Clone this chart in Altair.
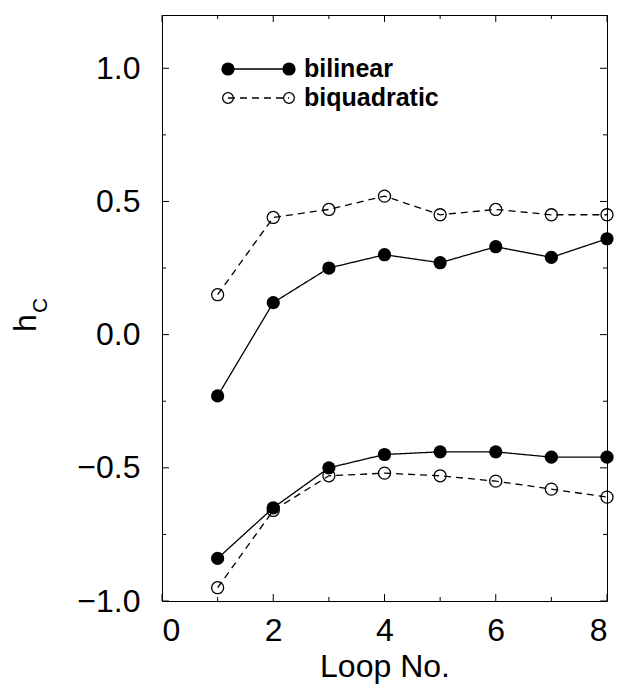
import altair as alt
import pandas as pd

# ---- data ----
loops = [1, 2, 3, 4, 5, 6, 7, 8]
bilinear_upper = [-0.23, 0.12, 0.25, 0.30, 0.27, 0.33, 0.29, 0.36]
biquadratic_upper = [0.15, 0.44, 0.47, 0.52, 0.45, 0.47, 0.45, 0.45]
bilinear_lower = [-0.84, -0.65, -0.50, -0.45, -0.44, -0.44, -0.46, -0.46]
biquadratic_lower = [-0.95, -0.66, -0.53, -0.52, -0.53, -0.55, -0.58, -0.61]
series_names = ["bilinear", "biquadratic"]

x_ticks_major = [0, 2, 4, 6, 8]
x_ticks_minor = [1, 3, 5, 7]
y_ticks_major = [-1.0, -0.5, 0.0, 0.5, 1.0]
y_ticks_minor = [-0.75, -0.25, 0.25, 0.75]

x_title = "Loop No."
y_title_main = "h"
y_title_sub = "C"

# ---- table ----
rows = []
for name, branch, vals in [
    ("bilinear", "upper", bilinear_upper),
    ("biquadratic", "upper", biquadratic_upper),
    ("bilinear", "lower", bilinear_lower),
    ("biquadratic", "lower", biquadratic_lower),
]:
    for x, v in zip(loops, vals):
        rows.append({"loop": x, "hc": v, "series": name, "branch": name + "-" + branch})
df = pd.DataFrame(rows)

W, H = 445, 586
FONT = "Liberation Sans"
MAJ, MIN = 7, 4

xs = alt.Scale(domain=[0, 8], nice=False, zero=False)
ys = alt.Scale(domain=[-1.0, 1.2], nice=False, zero=False)

XAXIS = alt.Axis(values=x_ticks_major, ticks=False, domain=False, grid=False,
                 labelFontSize=32, labelFont=FONT, labelColor="black",
                 labelPadding=14, title=x_title, titleFont=FONT,
                 titleFontSize=32, titleFontWeight="normal", titleColor="black",
                 titlePadding=5, format="d")
YAXIS = alt.Axis(values=y_ticks_major, ticks=False, domain=False, grid=False,
                 labelFontSize=32, labelFont=FONT, labelColor="black",
                 labelPadding=22, format=".1f", title=None)


def X(field):
    return alt.X(field, scale=xs, axis=XAXIS, title=x_title)


def Y(field):
    return alt.Y(field, scale=ys, axis=YAXIS, title=None)


base = alt.Chart(df)

lines = base.mark_line(color="black", strokeWidth=1.3).encode(
    x=X("loop:Q"),
    y=Y("hc:Q"),
    detail="branch:N",
    strokeDash=alt.StrokeDash("series:N",
                              scale=alt.Scale(domain=series_names, range=[[1, 0], [7, 5]]),
                              legend=None),
)

filled = base.transform_filter(alt.datum.series == "bilinear").mark_point(
    shape="circle", filled=True, color="black", size=175, opacity=1
).encode(x=X("loop:Q"), y=Y("hc:Q"))

opened = base.transform_filter(alt.datum.series == "biquadratic").mark_point(
    shape="circle", filled=False, color="black", size=145, strokeWidth=1.3, opacity=1
).encode(x=X("loop:Q"), y=Y("hc:Q"))


def yticks(vals, length):
    d = alt.Chart(pd.DataFrame({"v": vals}))
    left = d.mark_rule(color="black", strokeWidth=1).encode(
        y=Y("v:Q"), x=alt.value(0), x2=alt.value(length))
    right = d.mark_rule(color="black", strokeWidth=1).encode(
        y=Y("v:Q"), x=alt.value(W - length), x2=alt.value(W))
    return [left, right]


def xticks(vals, length):
    d = alt.Chart(pd.DataFrame({"v": vals}))
    bottom = d.mark_rule(color="black", strokeWidth=1).encode(
        x=X("v:Q"), y=alt.value(H - length), y2=alt.value(H))
    top = d.mark_rule(color="black", strokeWidth=1).encode(
        x=X("v:Q"), y=alt.value(0), y2=alt.value(length))
    return [bottom, top]


tick_layers = (yticks(y_ticks_major, MAJ) + yticks(y_ticks_minor, MIN)
               + xticks(x_ticks_major, MAJ) + xticks(x_ticks_minor, MIN))

one = alt.Chart(pd.DataFrame({"k": [0]}))

# y title h with subscript C
h_txt = one.mark_text(font=FONT, fontSize=32, angle=270, align="left",
                      baseline="alphabetic", color="black").encode(
    x=alt.value(36 - 162), y=alt.value(332 - 15), text=alt.value(y_title_main))
c_txt = one.mark_text(font=FONT, fontSize=21, angle=270, align="left",
                      baseline="alphabetic", color="black").encode(
    x=alt.value(47 - 162), y=alt.value(313 - 15), text=alt.value(y_title_sub))


def legend_item(label, ypix, dash, filled_pt):
    layers = [one.mark_rule(color="black", strokeWidth=1.3, strokeDash=dash).encode(
        x=alt.value(66), x2=alt.value(127), y=alt.value(ypix))]
    for xp in (66, 127):
        if filled_pt:
            layers.append(one.mark_point(shape="circle", filled=True, color="black",
                                         size=175, opacity=1).encode(
                x=alt.value(xp), y=alt.value(ypix)))
        else:
            layers.append(one.mark_point(shape="circle", filled=False, color="black",
                                         size=115, strokeWidth=1.3, opacity=1).encode(
                x=alt.value(xp), y=alt.value(ypix)))
    layers.append(one.mark_text(font=FONT, fontSize=25, fontWeight="bold", align="left",
                                baseline="middle", color="black").encode(
        x=alt.value(142), y=alt.value(ypix), text=alt.value(label)))
    return layers


legend_layers = (legend_item(series_names[0], 54, [1, 0], True)
                 + legend_item(series_names[1], 83, [7, 5], False))

chart = alt.layer(
    lines, *tick_layers, opened, filled, h_txt, c_txt, *legend_layers
).properties(
    width=W, height=H,
    padding={"left": 162, "top": 15, "right": 10, "bottom": 86},
    autosize=alt.AutoSizeParams(type="none"),
).configure_view(stroke="black", strokeWidth=1)

chart.save("out.html", embed_options={"renderer": "svg", "actions": False})
